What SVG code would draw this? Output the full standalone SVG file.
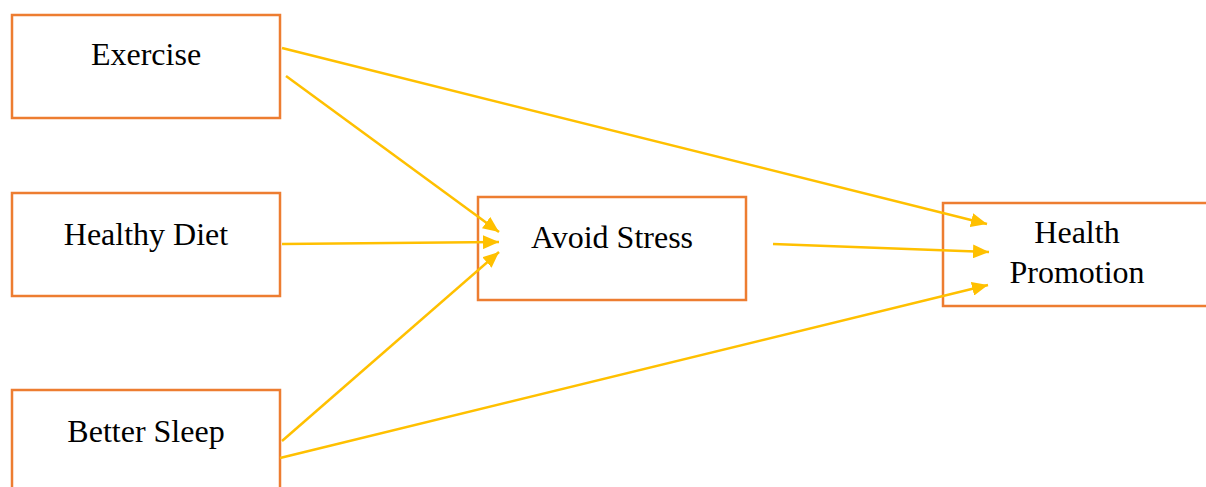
<svg xmlns="http://www.w3.org/2000/svg" width="1206" height="487" viewBox="0 0 1206 487">
<style>
.box{fill:#fff;stroke:#ED7D31;stroke-width:2.5}
.lbl{font-family:"Liberation Serif","Times New Roman",serif;font-size:32px;fill:#000;text-anchor:middle}
.con{stroke:#FFC000;stroke-width:2.5;fill:none;marker-end:url(#ah)}
</style>
<defs>
<marker id="ah" viewBox="0 0 10 10" refX="10" refY="5" markerWidth="6.4" markerHeight="5.6" markerUnits="strokeWidth" orient="auto" preserveAspectRatio="none">
<path d="M0,0 L10,5 L0,10 z" fill="#FFC000"/>
</marker>
</defs>
<rect width="1206" height="487" fill="#fff"/>
<g id="exercise"><rect class="box" x="12" y="15" width="268" height="103"/><text class="lbl" x="146" y="65">Exercise</text></g>
<g id="healthy-diet"><rect class="box" x="12" y="193" width="268" height="103"/><text class="lbl" x="146" y="245">Healthy Diet</text></g>
<g id="better-sleep"><rect class="box" x="12" y="390" width="268" height="103"/><text class="lbl" x="146" y="442">Better Sleep</text></g>
<g id="avoid-stress"><rect class="box" x="478" y="197" width="268" height="103"/><text class="lbl" x="612" y="248">Avoid Stress</text></g>
<g id="health-promotion"><rect class="box" x="943" y="203" width="268" height="103"/><text class="lbl" x="1077" y="243">Health</text><text class="lbl" x="1077" y="283">Promotion</text></g>
<g id="connectors">
<line class="con" x1="282" y1="48" x2="987" y2="224"/>
<line class="con" x1="286" y1="76" x2="499" y2="232"/>
<line class="con" x1="282" y1="244" x2="499" y2="242"/>
<line class="con" x1="282" y1="441" x2="499" y2="252"/>
<line class="con" x1="280" y1="458" x2="988" y2="285"/>
<line class="con" x1="773" y1="244" x2="989" y2="252"/>
</g>
</svg>
